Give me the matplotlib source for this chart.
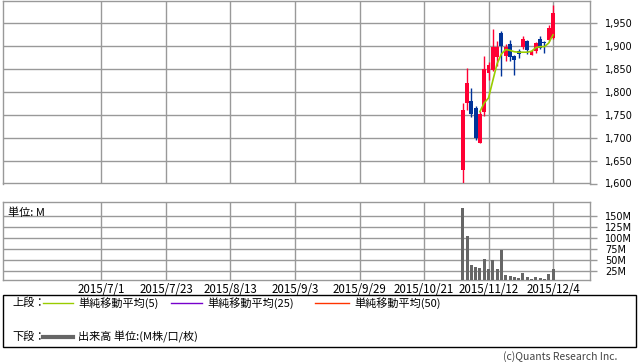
import matplotlib
matplotlib.use("Agg")
import matplotlib.pyplot as plt
from matplotlib.patches import Rectangle
from matplotlib.lines import Line2D

# ---- data ----
# trading-day index: 0 = 2015/11/4 ... 21 = 2015/12/4
day_idx = list(range(22))
opens  = [1630, 1775, 1780, 1766, 1689, 1757, 1841, 1849, 1877, 1929, 1878, 1906, 1878, 1889, 1898, 1912, 1880, 1889, 1915, 1909, 1913, 1918]
highs  = [1776, 1852, 1808, 1770, 1758, 1878, 1865, 1938, 1911, 1934, 1905, 1913, 1880, 1893, 1923, 1913, 1891, 1910, 1922, 1911, 1946, 1990]
lows   = [1594, 1760, 1745, 1694, 1688, 1748, 1827, 1845, 1856, 1835, 1868, 1868, 1838, 1874, 1893, 1884, 1880, 1885, 1894, 1885, 1911, 1916]
closes = [1760, 1820, 1753, 1700, 1753, 1850, 1860, 1898, 1898, 1901, 1898, 1877, 1869, 1884, 1916, 1891, 1889, 1907, 1896, 1907, 1939, 1972]
volume_m = [168.6, 105, 38.6, 34, 31.8, 52, 29.5, 49, 29.5, 72.6, 15.9, 12.9, 10.6, 8.4, 20.4, 11.3, 6.8, 11.3, 9, 6.8, 18, 29.5]
ma5_idx = list(range(4, 22))
ma5 = [1757, 1776, 1787, 1825, 1862, 1883, 1893, 1891, 1888, 1887, 1887, 1887, 1889, 1897, 1899, 1899, 1907, 1925]

tick_pos = [-84, -69, -54, -39, -24, -9, 6, 21]
tick_labels = ["2015/7/1", "2015/7/23", "2015/8/13", "2015/9/3", "2015/9/29", "2015/10/21", "2015/11/12", "2015/12/4"]
price_ticks = [1600, 1650, 1700, 1750, 1800, 1850, 1900, 1950]
vol_ticks = [25, 50, 75, 100, 125, 150]

# ---- style ----
W, H = 638, 362
JP = ["Noto Sans CJK JP", "DejaVu Sans"]
GRID = "#999999"
UP = "#ff0033"
DOWN = "#003399"

fig = plt.figure(figsize=(W / 100, H / 100), dpi=100)
fig.patch.set_facecolor("white")

def rect(l, t, r, b):
    return [l / W, 1 - b / H, (r - l) / W, (b - t) / H]

XLIM = (-106.9, 29.6)

ax = fig.add_axes(rect(3, 0.5, 590, 183.5))
axv = fig.add_axes(rect(3, 202, 590, 280))

for a in (ax, axv):
    a.set_xlim(*XLIM)
    a.set_xticks(tick_pos)
    a.grid(True, color=GRID, lw=1)
    a.set_axisbelow(True)
    for s in a.spines.values():
        s.set_color(GRID)
        s.set_linewidth(1)
    a.yaxis.tick_right()
    a.tick_params(axis="y", length=5, color=GRID, width=1, pad=6, labelsize=7)
    a.tick_params(axis="x", length=0)

ax.set_xticklabels([])
ax.set_ylim(1600, 2000)
ax.set_yticks(price_ticks)
ax.set_yticklabels([f"{v:,}" for v in price_ticks])

# candles
for i, o, h, l, c in zip(day_idx, opens, highs, lows, closes):
    col = UP if c >= o else DOWN
    ax.vlines(i, l, h, color=col, lw=1, zorder=3)
    bottom = min(o, c)
    height = max(abs(c - o), 1.5)
    ax.bar(i, height, bottom=bottom, width=0.9, color=col, lw=0, zorder=4)

ax.plot(ma5_idx, ma5, color="#99cc00", lw=1.2, zorder=5)

# volume
axv.set_ylim(3.7, 182)
axv.set_yticks(vol_ticks)
axv.set_yticklabels([f"{v}M" for v in vol_ticks])
axv.bar(day_idx, volume_m, width=0.7, color="#666666", lw=0, zorder=3)
axv.set_xticklabels(tick_labels, fontfamily=JP, fontsize=8.3)
axv.tick_params(axis="x", pad=2.5)
axv.text(0.009, 0.93, "単位: M", transform=axv.transAxes, fontsize=8,
         family=JP, va="top", ha="left")

# legend box
fig.patches.append(Rectangle((3 / W, 1 - 347 / H), 633 / W, 52 / H, transform=fig.transFigure,
                             fill=False, edgecolor="black", lw=1))

def fx(x):
    return x / W

def fy(y):
    return 1 - y / H

fig.text(fx(12), fy(303), "上段：", family=JP, fontsize=8, va="center")
fig.text(fx(12), fy(337), "下段：", family=JP, fontsize=8, va="center")

legend_items = [(43, 73, "#99cc00", "単純移動平均(5)"),
                (171, 202, "#7700cc", "単純移動平均(25)"),
                (315, 349, "#ff3300", "単純移動平均(50)")]
for x0, x1, col, lab in legend_items:
    fig.add_artist(Line2D([fx(x0), fx(x1)], [fy(303), fy(303)], color=col, lw=1,
                          transform=fig.transFigure))
    fig.text(fx(x1 + 5), fy(303), lab, family=JP, fontsize=8, va="center")

fig.add_artist(Line2D([fx(43), fx(73)], [fy(337), fy(337)], color="#666666", lw=3,
                      transform=fig.transFigure))
fig.text(fx(78), fy(337), "出来高 単位:(M株/口/枚)", family=JP, fontsize=8, va="center")

fig.text(fx(617), fy(357), "(c)Quants Research Inc.", family=JP, fontsize=7.5,
         va="center", ha="right", color="#444444")

fig.savefig("out.png", dpi=100)
